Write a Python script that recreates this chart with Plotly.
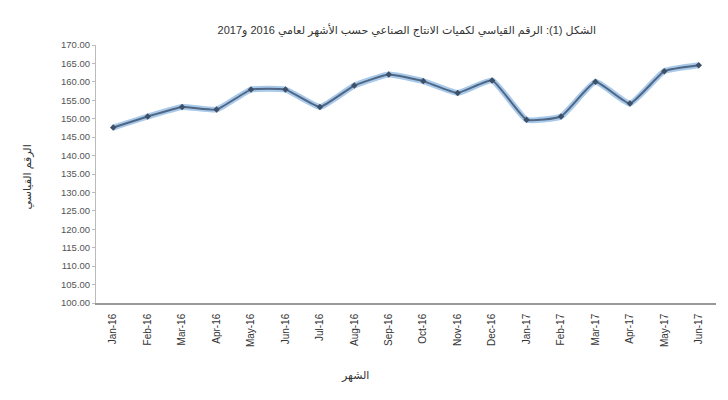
import plotly.graph_objects as go

months = ["Jan-16", "Feb-16", "Mar-16", "Apr-16", "May-16", "Jun-16", "Jul-16", "Aug-16", "Sep-16",
          "Oct-16", "Nov-16", "Dec-16", "Jan-17", "Feb-17", "Mar-17", "Apr-17", "May-17", "Jun-17"]
index_values = [147.6, 150.6, 153.2, 152.5, 157.9, 157.9, 153.2, 159.0, 162.0,
                160.2, 157.0, 160.4, 149.7, 150.6, 160.0, 154.1, 162.9, 164.5]
y_ticks = [100 + 5 * i for i in range(15)]

title_text = "الشكل (1): الرقم القياسي لكميات الانتاج الصناعي حسب الأشهر لعامي 2016 و2017"
x_title = "الشهر"
y_title = "الرقم القياسي"

fig = go.Figure()
fig.add_trace(go.Scatter(
    x=months, y=index_values, mode="lines",
    line=dict(color="#a9c9ea", width=6, shape="spline", smoothing=0.4),
    hoverinfo="skip", showlegend=False))
fig.add_trace(go.Scatter(
    x=months, y=index_values, mode="lines+markers",
    line=dict(color="#4f6684", width=2, shape="spline", smoothing=0.4),
    marker=dict(symbol="diamond", size=5, color="#3d5068"),
    showlegend=False))

fig.update_layout(
    width=720, height=392,
    margin=dict(l=88, r=12, t=37, b=97, autoexpand=False),
    paper_bgcolor="white", plot_bgcolor="white",
    font=dict(family="Liberation Sans, DejaVu Sans", color="#444"),
    title=dict(text=title_text, x=0.554, xanchor="center", y=0.944, yanchor="middle",
               font=dict(size=11, color="#333")),
    annotations=[
        dict(text=y_title, xref="paper", yref="paper", x=-0.11, y=0.49,
             xanchor="center", yanchor="middle", textangle=-90, showarrow=False,
             font=dict(size=11, color="#333")),
        dict(text=x_title, xref="paper", yref="paper", x=0.417, y=-0.28,
             xanchor="center", yanchor="middle", showarrow=False,
             font=dict(size=11, color="#333")),
    ],
)
fig.update_xaxes(
    type="category", range=[-0.5, 17.5], tickangle=-90, tickfont=dict(size=10, color="#333"),
    showline=True, linecolor="#999", linewidth=1.5, showgrid=False, ticks="",
    ticklabelstandoff=5, automargin=False,
)
fig.update_yaxes(
    range=[100, 170], tickvals=y_ticks, tickformat=".2f",
    tickfont=dict(size=9.5, color="#555"),
    showline=True, linecolor="#bbb", linewidth=1, showgrid=False,
    ticks="outside", ticklen=3, tickcolor="#bbb", zeroline=False,
    automargin=False,
)

fig.write_html("out.html")
